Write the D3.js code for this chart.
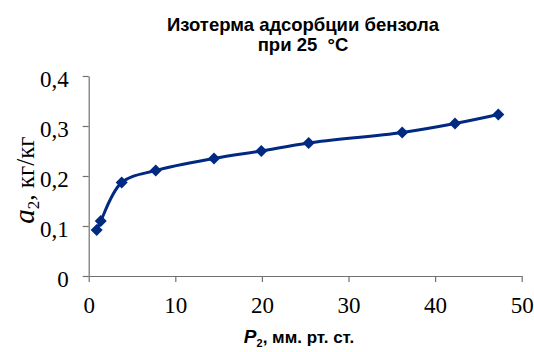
<!DOCTYPE html>
<html><head><meta charset="utf-8">
<script src="https://cdn.jsdelivr.net/npm/d3@7"></script>
<style>body{margin:0;background:#fff}</style>
</head><body>
<svg id="c" width="534" height="352"></svg>
<script>
const pressure = [0.92, 1.39, 3.81, 7.74, 14.47, 19.93, 25.4, 36.2, 42.3, 47.3];
const adsorption = [0.092, 0.110, 0.187, 0.211, 0.235, 0.250, 0.266, 0.287, 0.305, 0.323];
const xTicks = [0, 10, 20, 30, 40, 50];
const yTicks = [0, 0.1, 0.2, 0.3, 0.4];
const titleLines = ["Изотерма адсорбции бензола", "при 25  °C"];

const svg = d3.select("#c");
const x = d3.scaleLinear().domain([0, 50]).range([88.7, 521.7]);
const y = d3.scaleLinear().domain([0, 0.4]).range([276, 76]);
const axisColor = "#707070";
const serif = "Liberation Serif, Times New Roman, serif";
const sans = "Liberation Sans, Arial, sans-serif";

const xa = svg.append("g").attr("transform", "translate(0,276)")
  .call(d3.axisBottom(x).tickValues(xTicks).tickSize(6).tickSizeOuter(0).tickFormat(d3.format("d")));
const ya = svg.append("g").attr("transform", "translate(88.7,0)")
  .call(d3.axisLeft(y).tickValues(yTicks).tickSize(6).tickSizeOuter(0).tickFormat(d => d === 0 ? "0" : d.toFixed(1).replace(".", ",")));
[xa, ya].forEach(g => {
  g.select(".domain").attr("stroke", axisColor).attr("stroke-width", 1.2);
  g.selectAll(".tick line").attr("stroke", axisColor).attr("stroke-width", 1.2);
  g.selectAll("text").attr("font-family", serif).attr("font-size", 23).attr("fill", "#000");
});
xa.selectAll("text").attr("dy", null).attr("y", 37);
ya.selectAll("text").attr("x", -20).attr("dy", "0.44em");

const data = pressure.map((p, i) => [p, adsorption[i]]);
const color = "#002a82";
svg.append("path").datum(data)
  .attr("fill", "none").attr("stroke", color).attr("stroke-width", 3)
  .attr("d", d3.line().x(d => x(d[0])).y(d => y(d[1])).curve(d3.curveCatmullRom.alpha(0.5)));
svg.selectAll(".m").data(data).enter().append("path")
  .attr("d", d3.symbol().type(d3.symbolDiamond2).size(92))
  .attr("transform", d => `translate(${x(d[0])},${y(d[1])})`)
  .attr("fill", color);

svg.selectAll(".t").data(titleLines).enter().append("text")
  .attr("x", 303).attr("y", (d, i) => 31 + i * 20)
  .attr("text-anchor", "middle").attr("font-family", sans)
  .attr("font-weight", "bold").attr("font-size", 18.5)
  .style("white-space", "pre").text(d => d);

const yl = svg.append("text").attr("transform", "translate(34,180) rotate(-90)")
  .attr("text-anchor", "middle").attr("font-family", serif).attr("font-size", 25);
yl.append("tspan").attr("font-style", "italic").attr("font-size", 29).text("a");
yl.append("tspan").attr("font-size", 17).attr("dy", 5).text("2");
yl.append("tspan").attr("dy", -5).text(", кг/кг");

const xl = svg.append("text").attr("x", 299).attr("y", 343).attr("text-anchor", "middle")
  .attr("font-family", sans).attr("font-weight", "bold").attr("font-size", 17);
xl.append("tspan").attr("font-style", "italic").attr("font-size", 19).text("P");
xl.append("tspan").attr("font-size", 11).attr("dy", 4).text("2");
xl.append("tspan").attr("dy", -4).text(", мм. рт. ст.");
</script>
</body></html>
